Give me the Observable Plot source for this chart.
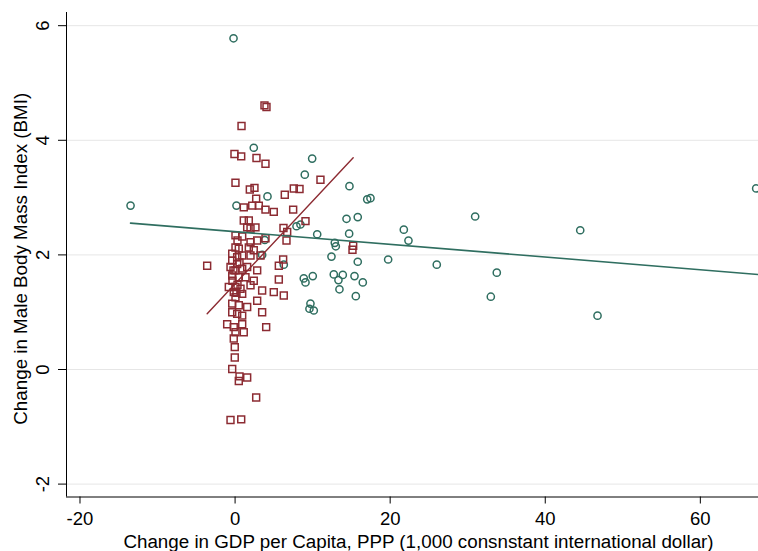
<!DOCTYPE html>
<html><head><meta charset="utf-8">
<script src="https://cdn.jsdelivr.net/npm/d3@7"></script>
<script src="https://cdn.jsdelivr.net/npm/@observablehq/plot@0.6"></script>
<style>body{margin:0;background:#fff}</style>
</head><body><div id="chart"></div>
<script>
// Circles (teal series)
const circleX = [-0.2,-13.48,2.41,4.18,0.18,9.94,8.99,14.75,17.04,17.46,14.37,15.82,14.71,10.59,7.92,8.43,12.86,12.99,12.43,15.82,19.74,8.86,9.08,10.02,12.73,13.33,13.89,15.40,16.47,13.46,15.57,9.72,9.59,10.15,6.28,3.83,3.49,21.76,22.36,26.01,30.96,33.75,32.98,44.51,46.74,67.20];
const circleY = [5.78,2.86,3.87,3.02,2.86,3.68,3.40,3.20,2.97,2.99,2.63,2.66,2.37,2.36,2.50,2.53,2.21,2.15,1.97,1.88,1.92,1.59,1.52,1.63,1.66,1.56,1.65,1.63,1.52,1.40,1.28,1.15,1.06,1.03,1.83,2.26,2.00,2.44,2.25,1.83,2.67,1.69,1.27,2.43,0.94,3.16];
// Squares (dark red series)
const squareX = [3.79,4.05,0.83,-0.08,0.79,2.76,3.92,0.05,1.90,2.50,6.41,7.57,8.31,11.01,2.72,1.12,2.21,3.06,3.92,4.99,7.49,1.12,1.77,2.63,1.56,9.08,0.05,0.92,6.24,6.72,6.63,3.92,1.99,-3.60,5.64,5.64,1.99,2.85,0.05,0.48,1.77,2.41,-0.37,0.27,0.92,1.99,3.28,-0.37,0.27,-0.59,0.05,0.92,1.56,2.85,-0.37,0.48,1.34,2.41,-0.81,0.05,0.70,1.99,3.49,4.99,6.28,-0.17,0.92,0.05,-0.37,0.48,1.56,2.85,3.49,-0.37,0.27,0.92,-1.02,-0.17,0.92,1.12,4.01,0.05,-0.17,-0.04,-0.04,-0.37,0.57,1.56,0.48,2.72,-0.59,0.79,15.23,15.14,6.20,0.31,-0.34,0.31,-0.21,0.57,0.18];
const squareY = [4.61,4.58,4.25,3.76,3.72,3.69,3.59,3.26,3.14,3.17,3.05,3.16,3.15,3.31,2.98,2.83,2.86,2.86,2.79,2.75,2.79,2.60,2.60,2.48,2.48,2.59,2.34,2.32,2.47,2.40,2.25,2.29,2.22,1.81,1.81,1.57,2.46,2.25,2.13,2.11,2.13,2.08,2.02,1.96,1.99,1.99,1.99,1.90,1.84,1.79,1.73,1.76,1.79,1.73,1.64,1.61,1.61,1.55,1.44,1.44,1.41,1.47,1.38,1.35,1.29,1.35,1.32,1.26,1.15,1.12,1.09,1.20,1.00,1.00,0.97,0.94,0.79,0.74,0.79,0.65,0.74,0.65,0.54,0.39,0.21,0.01,-0.12,-0.14,-0.20,-0.49,-0.88,-0.87,2.16,2.09,1.92,2.25,1.55,1.48,1.73,1.87,1.34];
// Fitted lines (endpoints)
const greenFitX = [-13.48, 67.5];
const greenFitY = [2.555, 1.658];
const redFitX = [-3.60, 15.23];
const redFitY = [0.973, 3.694];
// Axes
const xTicks = [-20, 0, 20, 40, 60];
const yTicks = [-2, 0, 2, 4, 6];
const xDomain = [-21.74, 67.5];
const yDomain = [-2.225, 6.23];
const xTitle = "Change in GDP per Capita, PPP (1,000 consnstant international dollar)";
const yTitle = "Change in Male Body Mass Index (BMI)";

const teal = "#2f6e60";
const red = "#8c2b32";

const circles = circleX.map((x, i) => ({x, y: circleY[i]}));
const squares = squareX.map((x, i) => ({x, y: squareY[i]}));
const greenFit = greenFitX.map((x, i) => ({x, y: greenFitY[i]}));
const redFit = redFitX.map((x, i) => ({x, y: redFitY[i]}));

const chart = Plot.plot({
  width: 758, height: 551,
  marginLeft: 66, marginRight: 0, marginTop: 12, marginBottom: 54.5,
  style: {fontFamily: "'Liberation Sans', Arial, sans-serif", fontSize: "18.5px", background: "#fff", color: "#000", overflow: "visible"},
  x: {domain: xDomain},
  y: {domain: yDomain},
  marks: [
    Plot.gridY(yTicks, {stroke: "#e6e6e6", strokeOpacity: 1}),
    Plot.ruleX([xDomain[0]], {stroke: "#000"}),
    Plot.ruleY([yDomain[0]], {stroke: "#000"}),
    Plot.axisX({ticks: xTicks, tickSize: 7, tickPadding: 8, label: null, tickFormat: d => String(d), fontSize: 18.5}),
    Plot.axisY({ticks: yTicks, tickSize: 8, tickPadding: 10, tickRotate: -90, label: null, tickFormat: d => String(d), fontSize: 18.5}),
    Plot.dot(circles, {x: "x", y: "y", symbol: "circle", r: 3.6, stroke: teal, strokeWidth: 1.5, fill: "none"}),
    Plot.dot(squares, {x: "x", y: "y", symbol: "square", r: 3.9, stroke: red, strokeWidth: 1.5, fill: "none"}),
    Plot.line(greenFit, {x: "x", y: "y", stroke: teal, strokeWidth: 1.6}),
    Plot.line(redFit, {x: "x", y: "y", stroke: red, strokeWidth: 1.4}),
    Plot.text([xTitle], {text: d => d, frameAnchor: "bottom", dy: 51, dx: 6, lineAnchor: "bottom", fontSize: 18.8}),
    Plot.text([yTitle], {text: d => d, frameAnchor: "left", textAnchor: "middle", rotate: -90, dx: -40, dy: 4, lineAnchor: "bottom", fontSize: 18.8})
  ]
});
document.getElementById("chart").appendChild(chart);
</script>
</body></html>
